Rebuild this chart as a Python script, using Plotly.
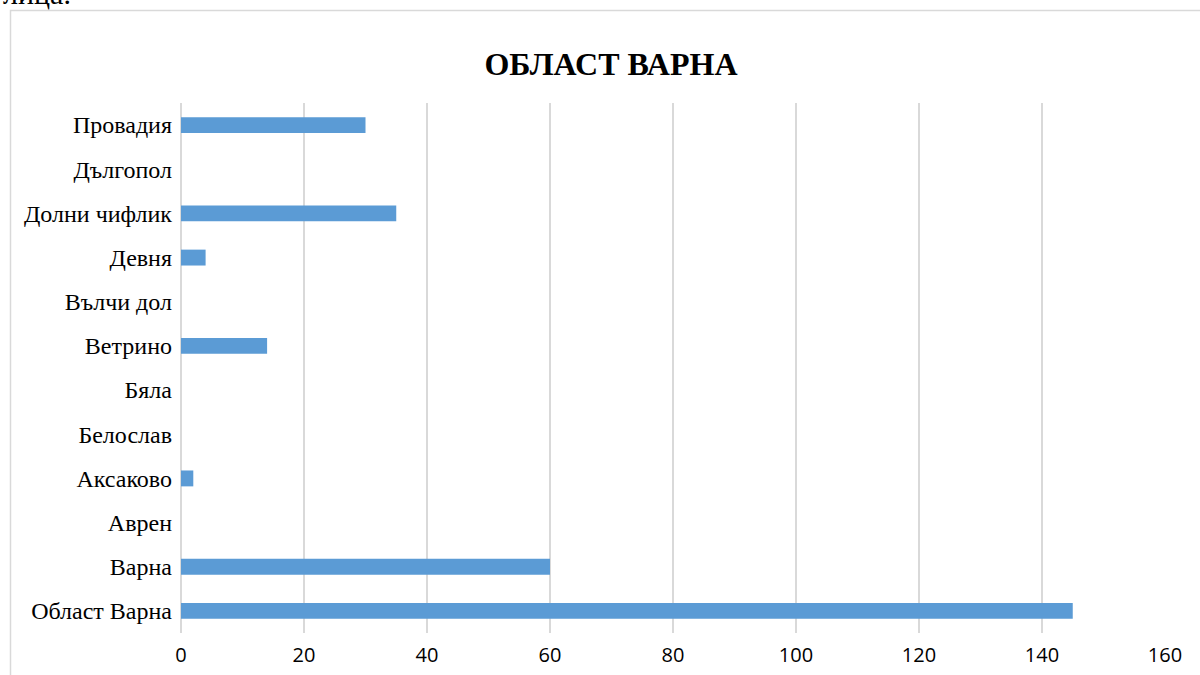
import plotly.graph_objects as go

categories = ["Област Варна", "Варна", "Аврен", "Аксаково", "Белослав", "Бяла",
              "Ветрино", "Вълчи дол", "Девня", "Долни чифлик", "Дългопол", "Провадия"]
values = [145, 60, 0, 2, 0, 0, 14, 0, 4, 35, 0, 30]
x_ticks = [0, 20, 40, 60, 80, 100, 120, 140, 160]

W, H = 1200, 675
L, R, T, B = 181, 35, 103, 42
pw, ph = W - L - R, H - T - B

def px_x(x):
    return (x - L) / pw

def px_y(y):
    return 1 - (y - T) / ph

fig = go.Figure()
fig.add_trace(go.Bar(
    y=categories, x=values, orientation="h",
    marker=dict(color="#5b9bd5", line=dict(width=0)),
    width=0.36,
))

fig.update_layout(
    width=W, height=H,
    margin=dict(l=L, r=R, t=T, b=B, pad=0, autoexpand=False),
    paper_bgcolor="white", plot_bgcolor="white",
    showlegend=False,
    title=dict(text="<b>ОБЛАСТ ВАРНА</b>", x=611 / W,
               xref="container", xanchor="center", y=1 - 64 / H, yanchor="middle",
               yref="container",
               font=dict(family="Liberation Serif", size=32, color="black")),
    xaxis=dict(range=[0, 160], tickvals=x_ticks, showgrid=True, gridcolor="#d9d9d9",
               gridwidth=1.5, zeroline=True, zerolinecolor="#d9d9d9", zerolinewidth=2,
               showline=False, ticks="", fixedrange=True, automargin=False,
               ticklabelstandoff=8,
               tickfont=dict(family="Open Sans", size=20, color="#000000")),
    yaxis=dict(categoryorder="array", categoryarray=categories, showgrid=False,
               showline=False, ticks="", zeroline=False, automargin=False,
               ticklabelstandoff=8, fixedrange=True,
               tickfont=dict(family="Liberation Serif", size=24, color="#000000")),
    shapes=[dict(type="rect", xref="paper", yref="paper",
                 x0=px_x(10.5), x1=px_x(1260), y0=px_y(720), y1=px_y(10.5),
                 line=dict(color="#d9d9d9", width=1.5), fillcolor="rgba(0,0,0,0)",
                 layer="below")],
    annotations=[dict(text="лица.", xref="paper", yref="paper",
                      x=px_x(1), y=px_y(12), xanchor="left", yanchor="bottom",
                      showarrow=False,
                      font=dict(family="Liberation Serif", size=30, color="black"))],
)

fig.write_html("out.html", config={"displayModeBar": False},
               post_script="document.body.style.margin='0';")
